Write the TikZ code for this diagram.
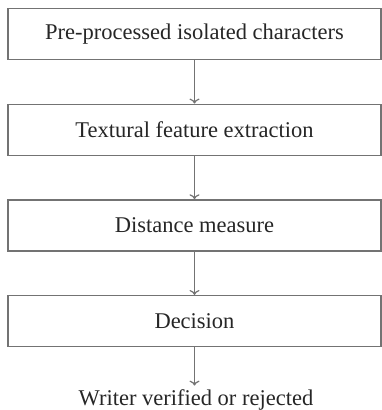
\documentclass[tikz,border=0pt]{standalone}
\usepackage{fontspec}
\setmainfont{Liberation Serif}
\usepackage{tikz}
\usetikzlibrary{positioning,arrows,arrows.meta}

\begin{document}
\begin{tikzpicture}[x=1pt,y=-1pt,
    stage/.style={rectangle, draw=black!55, line width=1.2pt, minimum width=373pt, minimum height=51pt},
    every node/.style={text=black!85, font=\fontsize{22.5}{26}\selectfont},
    node distance=43.5pt, >={To[length=5pt,width=10pt]}]
      \useasboundingbox (0,0) rectangle (382,410);
      \node [stage] (input) at (194.5,34) {Pre-processed isolated characters};
      \node [stage, below=of input] (feature) {Textural feature extraction};
      \node [stage, below=of feature] (distance) {Distance measure};
      \node [stage, below=of distance] (decision) {Decision};
      \node [anchor=base] (result) at (196,405) {Writer verified or rejected};
      \draw [->, draw=black!55, line width=1.2pt] (input) -- (feature);
      \draw [->, draw=black!55, line width=1.2pt] (feature) -- (distance);
      \draw [->, draw=black!55, line width=1.2pt] (distance) -- (decision);
      \draw [->, draw=black!55, line width=1.2pt] (decision.south) -- (decision.south |- result.north);
    \end{tikzpicture}
\end{document}
